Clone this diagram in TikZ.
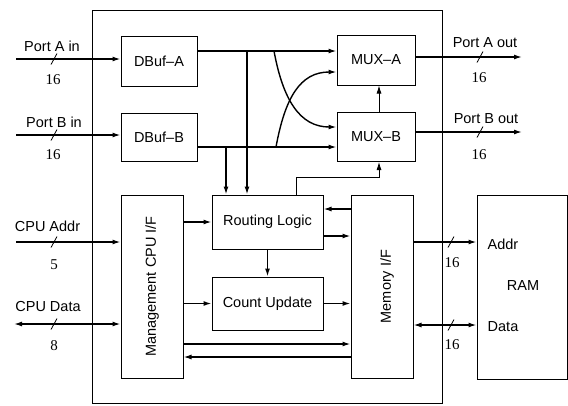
\documentclass[tikz,border=0pt]{standalone}
\usepackage{fontspec}
\setmainfont{Liberation Serif}
\setsansfont{Liberation Sans}
\usetikzlibrary{arrows.meta}

\begin{document}
\begin{tikzpicture}[x=1pt,y=-1pt,font=\sffamily\fontsize{14.5}{16}\selectfont,>={Latex[length=8pt,width=5pt]},
 block/.style={draw,line width=1pt,inner sep=0pt,align=center},
 line/.style={->,line width=1.4pt},
 thinline/.style={->,line width=.8pt},
 num/.style={font=\rmfamily\fontsize{15}{17}\selectfont},
 tick/.style={line width=.8pt}]
\useasboundingbox (0,0) rectangle (568,405);
\node[draw,line width=1pt,minimum width=350pt,minimum height=393pt] (chip) at (267,206.5) {};
\node[block,minimum width=76pt,minimum height=50pt] (dbufa) at (159,61) {DBuf--A};
\node[block,minimum width=76pt,minimum height=48pt] (dbufb) at (159,137) {DBuf--B};
\node[block,minimum width=78pt,minimum height=50pt] (muxa) at (376,60) {MUX--A};
\node[block,minimum width=78pt,minimum height=49pt] (muxb) at (376,137) {MUX--B};
\node[block,minimum width=111pt,minimum height=54pt] (routing) at (267.5,222) {Routing Logic};
\node[block,minimum width=111pt,minimum height=53pt] (count) at (267.5,303.5) {Count Update};
\node[block,minimum width=62pt,minimum height=183pt,label={[rotate=90]center:Management CPU I/F}] (mgmt) at (152,286.5) {};
\node[block,minimum width=62pt,minimum height=183pt,label={[rotate=90,yshift=-5pt]center:Memory I/F}] (memif) at (382,286.5) {};
\node[block,minimum width=90pt,minimum height=184pt] (ram) at (522,287) {};
\node (ramlbl) at (523,286) {RAM};
\node (raddr) at (503,244) {Addr};
\node (rdata) at (503,327) {Data};
% ports on the left
\coordinate (pain) at (16,59);
\coordinate (pbin) at (16,135);
\coordinate (cpua) at (16,242);
\coordinate (cpud) at (14,324);
\node (painlbl) at (52,46) {Port A in};
\node[num] (painw) at (53,80) {16};
\node (pbinlbl) at (54,122) {Port B in};
\node[num] (pbinw) at (53,155) {16};
\node (cpualbl) at (47.5,226) {CPU Addr};
\node[num] (cpuaw) at (54,265) {5};
\node (cpudlbl) at (48,307) {CPU Data};
\node[num] (cpudw) at (54,346) {8};
\draw[line] (pain) -- (pain -| dbufa.west);
\draw[line] (pbin) -- (pbin -| dbufb.west);
\draw[line] (cpua) -- (cpua -| mgmt.west);
\draw[line,<->] (cpud) -- (cpud -| mgmt.west);
\draw[tick] (54,59) ++(-3,5.5) -- ++(6,-11);
\draw[tick] (54,135) ++(-3,5.5) -- ++(6,-11);
\draw[tick] (54,242) ++(-3,5.5) -- ++(6,-11);
\draw[tick] (54,324) ++(-3,5.5) -- ++(6,-11);
% ports on the right
\coordinate (paout) at (522,57);
\coordinate (pbout) at (522,132);
\node (paoutlbl) at (485,43) {Port A out};
\node[num] (paoutw) at (479,78) {16};
\node (pboutlbl) at (486,119) {Port B out};
\node[num] (pboutw) at (479,155) {16};
\draw[line] (paout -| muxa.east) -- (paout);
\draw[line] (pbout -| muxb.east) -- (pbout);
\draw[tick] (480,57) ++(-3,5.5) -- ++(6,-11);
\draw[tick] (480,132) ++(-3,5.5) -- ++(6,-11);
% memory bus
\coordinate (busa) at (451,242);
\coordinate (busd) at (451,325);
\node[num] (busaw) at (452,263) {16};
\node[num] (busdw) at (452,345) {16};
\draw[line] (busa -| memif.east) -- (busa -| ram.west);
\draw[line,<->] (busd -| memif.east) -- (busd -| ram.west);
\draw[tick] (busa) ++(-3,5.5) -- ++(6,-11);
\draw[tick] (busd) ++(-3,5.5) -- ++(6,-11);
% data paths
\coordinate (xa) at (274,51);
\coordinate (xb) at (276,147);
\coordinate (ta) at (247,51);
\coordinate (tb) at (226,147);
\draw[line] ([yshift=10pt]dbufa.east) -- ([yshift=9pt]muxa.west);
\draw[line] ([yshift=-10pt]dbufb.east) -- ([yshift=-10pt]muxb.west);
\draw[line] (xa) .. controls (283,100) and (300,127) .. ([yshift=10pt]muxb.west);
\draw[line] (xb) .. controls (285,98) and (300,72) .. ([yshift=-12pt]muxa.west);
\draw[line] (ta) -- (ta |- routing.north);
\draw[line] (tb) -- (tb |- routing.north);
\draw[thinline] ([xshift=3pt]muxb.north) -- ([xshift=3pt]muxa.south);
\draw[thinline] ([xshift=28.5pt]routing.north) -- ++(0,-17) -| ([xshift=3pt]muxb.south);
% control paths
\coordinate (r1) at ([yshift=13pt]routing.east);
\coordinate (r2) at ([yshift=-14pt]routing.east);
\draw[line] (routing) -- (count);
\draw[line] (mgmt.east |- routing) -- (routing.west);
\draw[line] (mgmt.east |- count) -- (count.west);
\draw[line] ([yshift=-57.5pt]mgmt.east) -- ([yshift=-57.5pt]memif.west);
\draw[line] ([yshift=-70.5pt]memif.west) -- ([yshift=-70.5pt]mgmt.east);
\draw[line] (r1 -| memif.west) -- (r1);
\draw[line] (r2) -- (r2 -| memif.west);
\draw[line] (count.east) -- (count.east -| memif.west);
\end{tikzpicture}
\end{document}
